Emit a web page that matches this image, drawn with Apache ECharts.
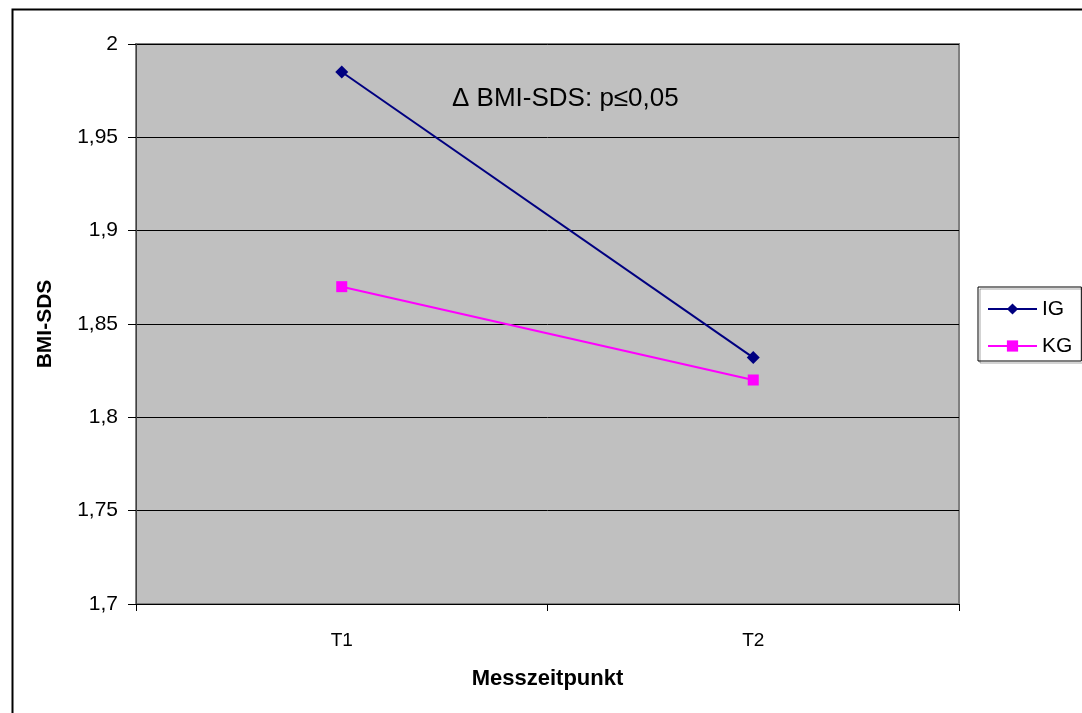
<!DOCTYPE html>
<html>
<head>
<meta charset="utf-8">
<script src="https://cdn.jsdelivr.net/npm/echarts@6/dist/echarts.min.js"></script>
<style>
html,body{margin:0;padding:0;background:#fff;}
#chart{width:1082px;height:713px;}
</style>
</head>
<body>
<div id="chart"></div>
<script>
const categories = ['T1', 'T2'];
const seriesIG = [1.985, 1.832];
const seriesKG = [1.870, 1.820];
const yMin = 1.7, yMax = 2.0, yStep = 0.05;
const annotation = 'Δ BMI-SDS: p≤0,05';
const FONT = "'Liberation Sans', Arial, sans-serif";

const chart = echarts.init(document.getElementById('chart'), null, {renderer: 'canvas'});
chart.setOption({
  animation: false,
  backgroundColor: '#ffffff',
  textStyle: {fontFamily: FONT, color: '#000'},
  title: {
    text: annotation,
    left: 452, top: 86, padding: 0,
    textStyle: {fontFamily: FONT, fontSize: 26, fontWeight: 'normal', color: '#000'}
  },
  graphic: [{
    type: 'rect', left: 10, top: 7, silent: true, z: -1,
    shape: {width: 1100, height: 720},
    style: {fill: 'none', stroke: '#000', lineWidth: 2}
  }],
  grid: {
    left: 136, right: 123, top: 44, bottom: 109,
    show: true, backgroundColor: '#C0C0C0', borderColor: '#808080', borderWidth: 2
  },
  legend: {
    orient: 'vertical', left: 978, top: 287,
    padding: [10, 9, 3, 9],
    borderColor: '#000', borderWidth: 1,
    shadowColor: 'rgba(0,0,0,0.35)', shadowOffsetX: 2, shadowOffsetY: 2, shadowBlur: 0,
    itemWidth: 49, itemHeight: 14, itemGap: 13, itemTextGap: 5,
    textStyle: {fontFamily: FONT, fontSize: 21, lineHeight: 24, color: '#000'},
    data: ['IG', 'KG']
  },
  xAxis: {
    type: 'category', data: categories, boundaryGap: true,
    name: 'Messzeitpunkt', nameLocation: 'middle', nameGap: 64,
    nameTextStyle: {fontFamily: FONT, fontSize: 22, fontWeight: 'bold', color: '#000'},
    axisLine: {lineStyle: {color: '#000', width: 1}},
    axisTick: {show: true, length: 7, alignWithLabel: false, lineStyle: {color: '#000'}},
    axisLabel: {fontFamily: FONT, fontSize: 19, color: '#000', margin: 27}
  },
  yAxis: {
    type: 'value', min: yMin, max: yMax, interval: yStep,
    name: 'BMI-SDS', nameLocation: 'middle', nameGap: 80, nameRotate: 90,
    nameTextStyle: {fontFamily: FONT, fontSize: 21, fontWeight: 'bold', color: '#000'},
    axisLine: {show: true, lineStyle: {color: '#404040', width: 1}},
    axisTick: {show: true, length: 8, lineStyle: {color: '#000'}},
    axisLabel: {
      fontFamily: FONT, fontSize: 21, color: '#000', margin: 18,
      formatter: v => String(Number(v.toFixed(2))).replace('.', ',')
    },
    splitLine: {show: true, lineStyle: {color: '#000', width: 1}}
  },
  series: [
    {
      name: 'IG', type: 'line', data: seriesIG,
      symbol: 'diamond', symbolSize: 13, showAllSymbol: true,
      lineStyle: {color: '#000080', width: 2},
      itemStyle: {color: '#000080'}
    },
    {
      name: 'KG', type: 'line', data: seriesKG,
      symbol: 'rect', symbolSize: 11, showAllSymbol: true,
      lineStyle: {color: '#FF00FF', width: 2},
      itemStyle: {color: '#FF00FF'}
    }
  ]
});
</script>
</body>
</html>
